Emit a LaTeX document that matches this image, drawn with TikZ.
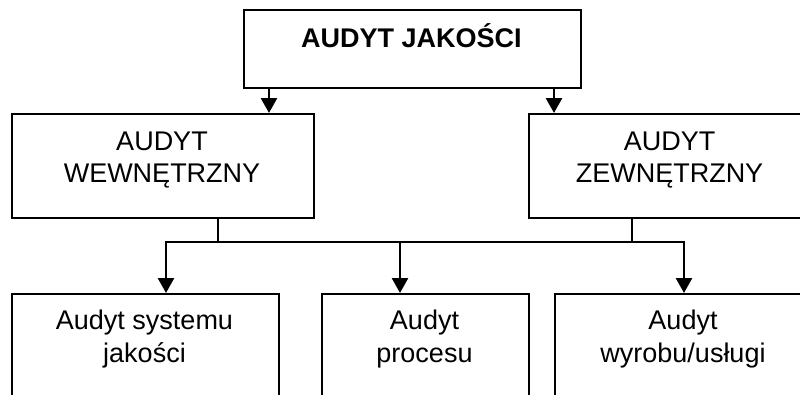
\documentclass[tikz,border=0pt]{standalone}
\usepackage{fontspec}
\setmainfont{Liberation Sans}
\usetikzlibrary{arrows.meta}
\tikzset{
  box/.style={draw=black, line width=1.8pt, rectangle, inner sep=0pt, anchor=north west, fill=none},
  lbl/.style={inner sep=0pt, align=center, anchor=base, font=\fontsize{27}{32.5}\selectfont},
  conn/.style={draw=black, line width=2.6pt, line join=miter},
  tip/.tip={Triangle[width=16pt,length=15pt]},
  arr/.style={conn, -tip},
  arr2/.style={conn, tip-tip}
}
\begin{document}
\begin{tikzpicture}[x=1pt,y=-1pt]
\path[use as bounding box, fill=white] (0,0) rectangle (800,394);
\clip (0,0) rectangle (800,394);
% boxes
\node[box, minimum width=337pt, minimum height=78pt] (top) at (243,9) {};
\node[box, minimum width=302pt, minimum height=104pt] (wew) at (11,113) {};
\node[box, minimum width=283pt, minimum height=104pt] (zew) at (528,113) {};
\node[box, minimum width=267pt, minimum height=140pt] (sys) at (11,293) {};
\node[box, minimum width=207pt, minimum height=140pt] (pro) at (321,293) {};
\node[box, minimum width=258pt, minimum height=140pt] (wyr) at (554,293) {};
% labels (anchor=base is the last line's baseline)
\node[lbl] (ttop) at (411.5,47) {\bfseries AUDYT JAKOŚCI};
\node[lbl] (twew) at (162,182.5) {AUDYT\\WEWNĘTRZNY};
\node[lbl] (tzew) at (669.5,182.5) {AUDYT\\ZEWNĘTRZNY};
\node[lbl] (tsys) at (144.5,362) {Audyt systemu\\jakości};
\node[lbl] (tpro) at (424.5,362) {Audyt\\procesu};
\node[lbl] (twyr) at (683,362) {Audyt\\wyrobu/usługi};
% connector coordinates
\coordinate (a1) at (269,0);
\coordinate (a2) at (554,0);
\coordinate (c1) at (218,242);
\coordinate (c2) at (632,242);
\coordinate (k1) at (166,242);
\coordinate (k2) at (400,242);
\coordinate (k3) at (684,242);
% connectors
\draw[arr] (top.south -| a1) -- (a1 |- wew.north);
\draw[arr] (top.south -| a2) -- (a2 |- zew.north);
\draw[conn] (wew.south -| c1) -- (c1);
\draw[conn] (zew.south -| c2) -- (c2);
\draw[arr2] (k1 |- sys.north) -- (k1) -- (k3) -- (k3 |- wyr.north);
\draw[arr] (k2) -- (k2 |- pro.north);
\end{tikzpicture}
\end{document}
